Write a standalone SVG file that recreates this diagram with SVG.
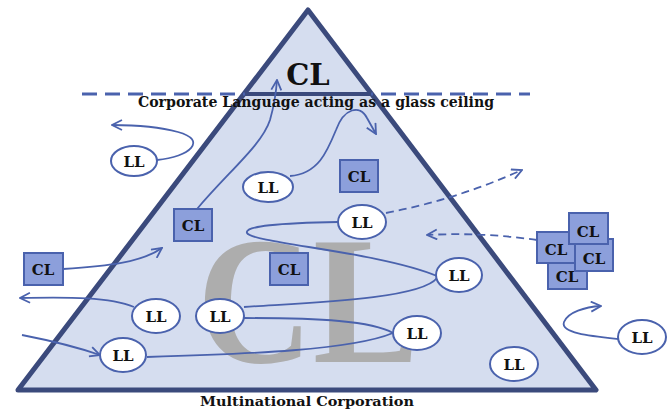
<svg xmlns="http://www.w3.org/2000/svg" width="672" height="411" viewBox="0 0 672 411">
  <style>
    .lbl { font-family: "DejaVu Serif", "Liberation Serif", serif; font-weight: bold; fill: #111; text-anchor: middle; }
    .ll ellipse { fill: #ffffff; stroke: #4a62ad; stroke-width: 2; }
    .cl rect { fill: #8c9fdb; stroke: #4a62ad; stroke-width: 2; }
    .link { fill: none; stroke: #4a62ad; stroke-width: 1.8; }
    .dash { stroke-dasharray: 8 5; }
  </style>
  <defs>
    <marker id="arrow" viewBox="0 0 12 12" refX="11" refY="6" markerWidth="12" markerHeight="12" markerUnits="userSpaceOnUse" orient="auto">
      <path d="M1,1 L11,6 L1,11" fill="none" stroke="#4a62ad" stroke-width="1.8"/>
    </marker>
  </defs>

  <!-- pyramid -->
  <g id="pyramid">
    <polygon points="308,10 596,390 18,390" fill="#d5ddef" stroke="#3b4a7c" stroke-width="5" stroke-linejoin="round"/>
    <line x1="82" y1="94" x2="530" y2="94" stroke="#4a62ad" stroke-width="3" stroke-dasharray="15 8"/>
    <line x1="245" y1="94" x2="371" y2="94" stroke="#3b4a7c" stroke-width="4"/>
    <text x="197" y="362" font-family="'Liberation Serif', 'DejaVu Serif', serif" font-weight="bold" font-size="182" fill="#adadad" textLength="223" lengthAdjust="spacingAndGlyphs">CL</text>
  </g>

  <!-- connectors -->
  <g id="connectors">
    <path class="link" d="M157,160 C190,157 208,140 178,132 C160,127 135,125 112,125" marker-end="url(#arrow)"/>
    <path class="link" d="M197,209 C228,172 262,145 270,120 C274,106 276,94 277,80" marker-end="url(#arrow)"/>
    <path class="link" d="M290,176 C318,174 327,152 336,130 C344,108 360,104 367,118 L376,134" marker-end="url(#arrow)"/>
    <path class="link dash" d="M386,213 Q455,200 522,170" marker-end="url(#arrow)"/>
    <path class="link dash" d="M537,240 Q482,232 427,235" marker-end="url(#arrow)"/>
    <path class="link" d="M338,222 C280,223 244,226 247,233 C252,243 380,252 437,276"/>
    <path class="link" d="M437,278 C420,300 300,303 244,307"/>
    <path class="link" d="M244,318 C320,318 372,321 393,333"/>
    <path class="link" d="M147,357 C250,354 352,350 393,333"/>
    <path class="link" d="M134,307 C110,297 70,297 20,298" marker-end="url(#arrow)"/>
    <path class="link" d="M22,335 Q68,344 100,355" marker-end="url(#arrow)"/>
    <path class="link" d="M63,269 C110,266 142,262 162,248" marker-end="url(#arrow)"/>
    <path class="link" d="M618,339 C590,336 560,333 564,322 C568,312 585,307 601,306" marker-end="url(#arrow)"/>
  </g>

  <!-- headline labels -->
  <text class="lbl" x="308" y="85" font-size="29">CL</text>
  <text class="lbl" x="316" y="107" font-size="14" textLength="356" lengthAdjust="spacingAndGlyphs">Corporate Language acting as a glass ceiling</text>
  <text class="lbl" x="307" y="406" font-size="13.5" textLength="214" lengthAdjust="spacingAndGlyphs">Multinational Corporation</text>

  <!-- local language speakers -->
  <g id="ll1" class="ll"><ellipse cx="134" cy="161" rx="23" ry="15"/><text class="lbl" x="134" y="167" font-size="15">LL</text></g>
  <g id="ll2" class="ll"><ellipse cx="268" cy="187" rx="25" ry="15"/><text class="lbl" x="268" y="193" font-size="15">LL</text></g>
  <g id="ll3" class="ll"><ellipse cx="362" cy="222" rx="24" ry="17"/><text class="lbl" x="362" y="228" font-size="15">LL</text></g>
  <g id="ll4" class="ll"><ellipse cx="459" cy="275" rx="23" ry="17"/><text class="lbl" x="459" y="281" font-size="15">LL</text></g>
  <g id="ll5" class="ll"><ellipse cx="417" cy="333" rx="24" ry="17"/><text class="lbl" x="417" y="339" font-size="15">LL</text></g>
  <g id="ll6" class="ll"><ellipse cx="220" cy="316" rx="24" ry="17"/><text class="lbl" x="220" y="322" font-size="15">LL</text></g>
  <g id="ll7" class="ll"><ellipse cx="156" cy="316" rx="24" ry="17"/><text class="lbl" x="156" y="322" font-size="15">LL</text></g>
  <g id="ll8" class="ll"><ellipse cx="123" cy="355" rx="23" ry="17"/><text class="lbl" x="123" y="361" font-size="15">LL</text></g>
  <g id="ll9" class="ll"><ellipse cx="514" cy="364" rx="24" ry="17"/><text class="lbl" x="514" y="370" font-size="15">LL</text></g>
  <g id="ll10" class="ll"><ellipse cx="642" cy="337" rx="24" ry="17"/><text class="lbl" x="642" y="343" font-size="15">LL</text></g>

  <!-- corporate language holders -->
  <g id="cl1" class="cl"><rect x="340" y="160" width="38" height="32"/><text class="lbl" x="359" y="182" font-size="15">CL</text></g>
  <g id="cl2" class="cl"><rect x="174" y="209" width="38" height="32"/><text class="lbl" x="193" y="231" font-size="15">CL</text></g>
  <g id="cl3" class="cl"><rect x="24" y="253" width="39" height="32"/><text class="lbl" x="43" y="275" font-size="15">CL</text></g>
  <g id="cl4" class="cl"><rect x="270" y="253" width="38" height="32"/><text class="lbl" x="289" y="275" font-size="15">CL</text></g>

  <!-- cluster outside the pyramid -->
  <g id="cl5" class="cl"><rect x="548" y="257" width="39" height="32"/><text class="lbl" x="567" y="282" font-size="15">CL</text></g>
  <g id="cl6" class="cl"><rect x="537" y="232" width="38" height="31"/><text class="lbl" x="556" y="255" font-size="15">CL</text></g>
  <g id="cl7" class="cl"><rect x="575" y="239" width="38" height="32"/><text class="lbl" x="594" y="264" font-size="15">CL</text></g>
  <g id="cl8" class="cl"><rect x="569" y="213" width="39" height="31"/><text class="lbl" x="588" y="237" font-size="15">CL</text></g>
</svg>
